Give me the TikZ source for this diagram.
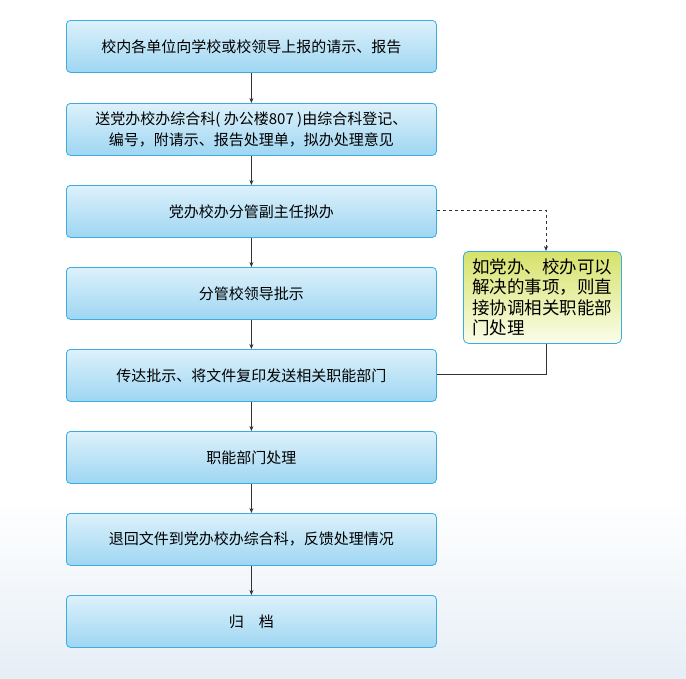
\documentclass[tikz,border=0pt]{standalone}
\usepackage{fontspec}
\setmainfont{Noto Sans CJK SC}
\usetikzlibrary{arrows.meta}
\definecolor{bord}{HTML}{3AAEE0}
\definecolor{topc}{HTML}{DDF1FB}
\definecolor{botc}{HTML}{9ED6F2}
\definecolor{ytop}{HTML}{D6E26A}
\definecolor{ybot}{HTML}{FBFDEA}
\definecolor{bgb}{HTML}{E6EEF6}
\begin{document}
\begin{tikzpicture}[x=1pt,y=-1pt,
  mainbox/.style={draw=bord,line width=0.8pt,rounded corners=4pt,top color=topc,bottom color=botc,minimum width=370pt,minimum height=52pt,anchor=north west,font=\fontsize{15}{21}\selectfont,align=center,inner sep=2pt},
  sidebox/.style={draw=bord,line width=0.8pt,rounded corners=5pt,top color=ytop,bottom color=ybot,minimum width=158pt,minimum height=92pt,anchor=north west,font=\fontsize{17.5}{20.5}\selectfont,align=left,inner sep=3pt},
  arr/.style={-{Stealth[length=5pt,width=4pt]},line width=0.8pt,black!80}]
\useasboundingbox[fill=white] (0,0) rectangle (686,678);
\shade[top color=white,bottom color=bgb] (0,500) rectangle (686,678);
\node[mainbox] (b1) at (66,20) {校内各单位向学校或校领导上报的请示、报告};
\node[mainbox] (b2) at (66,103) {送党办校办综合科( 办公楼807 )由综合科登记、\\编号，附请示、报告处理单，拟办处理意见};
\node[mainbox] (b3) at (66,185) {党办校办分管副主任拟办};
\node[mainbox] (b4) at (66,267) {分管校领导批示};
\node[mainbox] (b5) at (66,349) {传达批示、将文件复印发送相关职能部门};
\node[mainbox] (b6) at (66,431) {职能部门处理};
\node[mainbox] (b7) at (66,513) {退回文件到党办校办综合科，反馈处理情况};
\node[mainbox] (b8) at (66,595) {归\quad 档};
\node[sidebox] (s) at (463,251) {如党办、校办可以\\解决的事项，则直\\接协调相关职能部\\门处理};
\foreach \a/\b in {b1/b2,b2/b3,b3/b4,b4/b5,b5/b6,b6/b7,b7/b8}
  \draw[arr] (\a.south) -- (\b.north);
\coordinate (c1) at (546,210);
\draw[arr,dashed,line width=0.7pt] (b3.east |- c1) -- (c1) -- (s.north -| c1);
\coordinate (c2) at (546,374);
\draw[line width=0.8pt,black!80] (s.south -| c2) -- (c2) -- (b5.east |- c2);
\end{tikzpicture}
\end{document}
